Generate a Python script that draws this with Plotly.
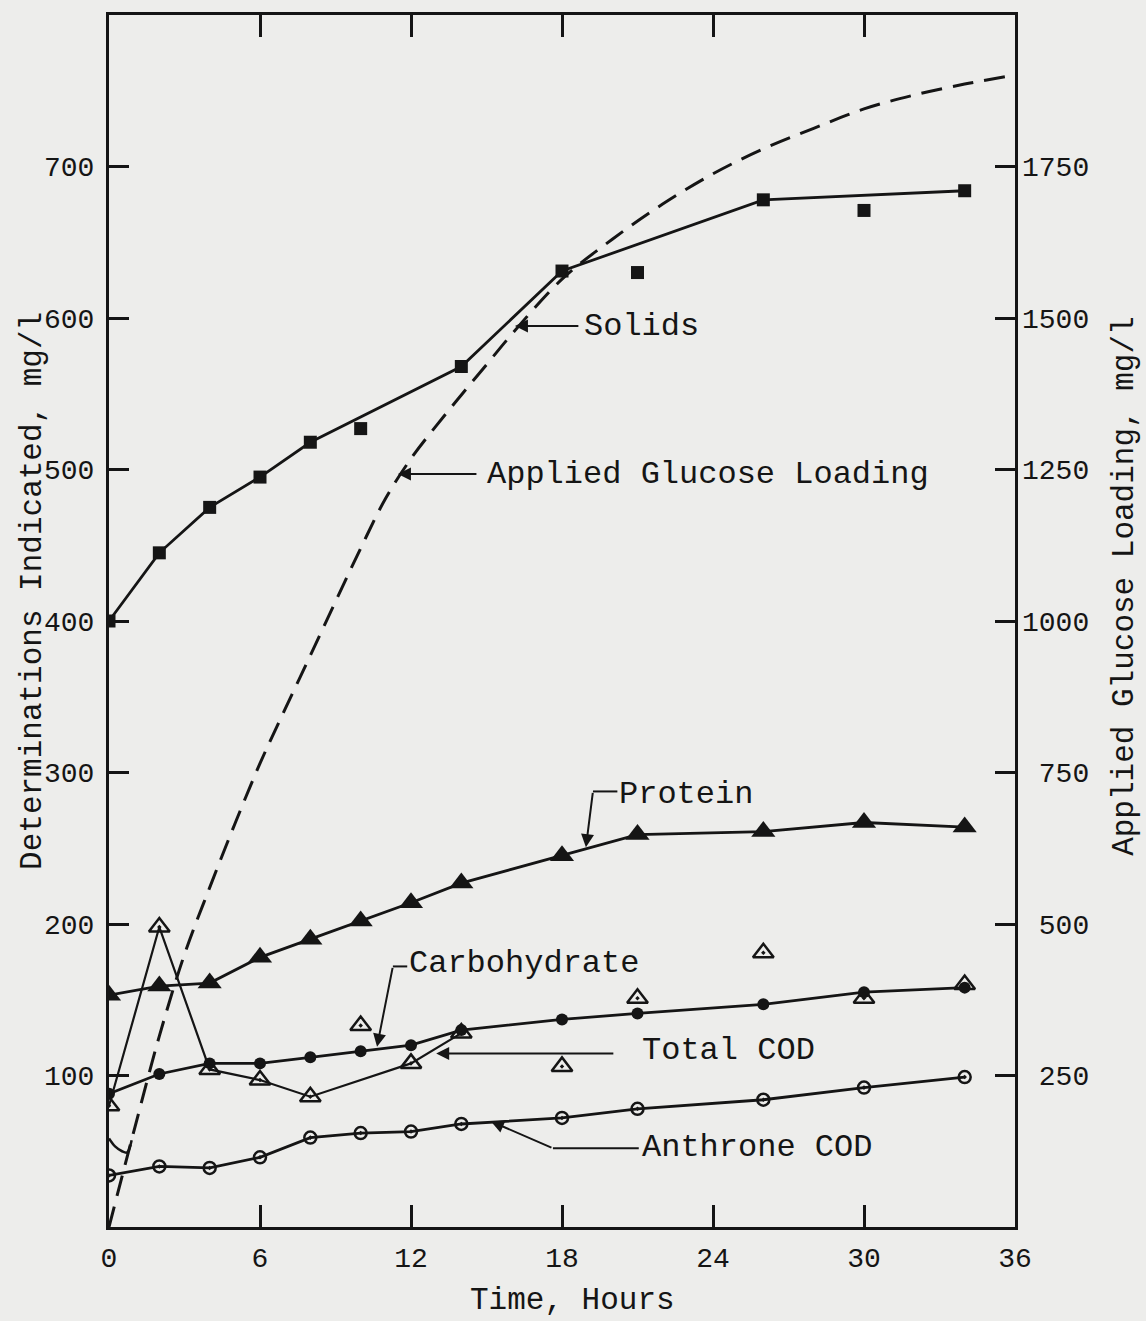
import plotly.graph_objects as go

# ---- measured series (time in hours, concentrations in mg/l) ----
solids_t = [0, 2, 4, 6, 8, 14, 18, 26, 34]
solids_v = [400, 445, 475, 495, 518, 568, 631, 678, 684]
solids_extra_t = [10, 21, 30]
solids_extra_v = [527, 630, 671]

protein_t = [0, 2, 4, 6, 8, 10, 12, 14, 18, 21, 26, 30, 34]
protein_v = [153, 159, 161, 178, 190, 202, 214, 227, 245, 259, 261, 267, 264]

carbo_t = [0, 2, 4, 6, 8, 10, 12, 14, 18, 21, 26, 30, 34]
carbo_v = [88, 101, 108, 108, 112, 116, 120, 130, 137, 141, 147, 155, 158]

tcod_t = [0, 2, 4, 6, 8, 12, 14]
tcod_v = [80, 198, 104, 97, 86, 108, 128]
tcod_extra_t = [10, 18, 21, 26, 30, 34]
tcod_extra_v = [133, 106, 151, 181, 151, 160]

anthrone_t = [0, 2, 4, 6, 8, 10, 12, 14, 18, 21, 26, 30, 34]
anthrone_v = [34, 40, 39, 46, 59, 62, 63, 68, 72, 78, 84, 92, 99]

# applied glucose loading (right axis)
glucose_t = [0, 1, 2, 3, 4, 5, 6, 7, 8, 9, 10, 11, 12, 13, 14, 15, 16,
             18, 20, 22, 24, 26, 28, 30, 32, 34, 35.6]
glucose_v = [0, 160, 315, 450, 560, 665, 765, 855, 943, 1032, 1120, 1203, 1268,
             1322, 1373, 1423, 1473, 1564, 1630, 1688, 1738, 1779, 1813, 1845,
             1868, 1886, 1898]
glucose_start_t = [0, 0.24, 0.52, 0.72, 0.9]
glucose_start_v = [146, 133, 125, 123, 143]

x_ticks = [0, 6, 12, 18, 24, 30, 36]
left_ticks = [100, 200, 300, 400, 500, 600, 700]
right_ticks = [250, 500, 750, 1000, 1250, 1500, 1750]

INK = "#151515"
BG = "#ededeb"
FONT = "Liberation Mono"

fig = go.Figure()

fig.add_trace(go.Scatter(x=glucose_t, y=glucose_v, yaxis="y2", mode="lines",
                         line=dict(color=INK, width=3, dash="21px,11px", shape="spline")))
fig.add_trace(go.Scatter(x=glucose_start_t, y=glucose_start_v, yaxis="y2", mode="lines",
                         line=dict(color=INK, width=2.5, shape="spline")))

fig.add_trace(go.Scatter(x=solids_t, y=solids_v, mode="lines+markers",
                         line=dict(color=INK, width=2.8),
                         marker=dict(symbol="square", size=13, color=INK)))
fig.add_trace(go.Scatter(x=solids_extra_t, y=solids_extra_v, mode="markers",
                         marker=dict(symbol="square", size=13, color=INK)))

fig.add_trace(go.Scatter(x=protein_t, y=protein_v, mode="lines+markers",
                         line=dict(color=INK, width=2.8),
                         marker=dict(symbol="triangle-up", size=21, color=INK)))

fig.add_trace(go.Scatter(x=carbo_t, y=carbo_v, mode="lines+markers",
                         line=dict(color=INK, width=2.8),
                         marker=dict(symbol="circle", size=12, color=INK)))

fig.add_trace(go.Scatter(x=tcod_t, y=tcod_v, mode="lines+markers",
                         line=dict(color=INK, width=2.2),
                         marker=dict(symbol="triangle-up-open-dot", size=18, color=INK,
                                     line=dict(width=2.5, color=INK))))
fig.add_trace(go.Scatter(x=tcod_extra_t, y=tcod_extra_v, mode="markers",
                         marker=dict(symbol="triangle-up-open-dot", size=18, color=INK,
                                     line=dict(width=2.5, color=INK))))

fig.add_trace(go.Scatter(x=anthrone_t, y=anthrone_v, mode="lines+markers",
                         line=dict(color=INK, width=2.8),
                         marker=dict(symbol="circle-open-dot", size=12, color=INK,
                                     line=dict(width=2.5, color=INK))))

label_font = dict(family=FONT, size=32, color=INK)


def label(text, x, y):
    fig.add_annotation(x=x, y=y, xref="x", yref="y", text=text, showarrow=False,
                       xanchor="left", yanchor="middle", font=label_font)


def pointer(x_tail, y_tail, x_head, y_head):
    fig.add_annotation(x=x_head, y=y_head, ax=x_tail, ay=y_tail, xref="x", yref="y",
                       axref="x", ayref="y", text="", showarrow=True,
                       arrowhead=2, arrowsize=1.3, arrowwidth=2, arrowcolor=INK)


def leader(x0, y0, x1, y1):
    fig.add_shape(type="line", xref="x", yref="y", x0=x0, y0=y0, x1=x1, y1=y1,
                  line=dict(color=INK, width=2))


label("Solids", 18.8, 594.7)
pointer(18.71, 594.7, 16.13, 594.7)

label("Applied Glucose Loading", 14.95, 497)
pointer(14.66, 497, 11.48, 497)

label("Protein", 20.2, 285.5)
leader(20.2, 287.5, 19.23, 287.5)
pointer(19.23, 287.5, 18.95, 250.7)

label("Carbohydrate", 11.85, 173.7)
leader(11.85, 172, 11.28, 172)
pointer(11.28, 172, 10.65, 119)

label("Total COD", 21.1, 116.4)
pointer(20.1, 114.5, 13.0, 114.5)

label("Anthrone COD", 21.1, 52.6)
leader(21.05, 52, 17.64, 52)
pointer(17.64, 52, 15.18, 69.7)

title_font = dict(family=FONT, size=31, color=INK)
fig.add_annotation(x=0.512, y=-0.0605, xref="paper", yref="paper", text="Time, Hours",
                   showarrow=False, xanchor="center", yanchor="middle", font=title_font)
fig.add_annotation(x=-0.0839, y=0.5248, xref="paper", yref="paper",
                   text="Determinations Indicated, mg/l", textangle=-90,
                   showarrow=False, xanchor="center", yanchor="middle", font=title_font)
fig.add_annotation(x=1.1214, y=0.529, xref="paper", yref="paper",
                   text="Applied Glucose Loading, mg/l", textangle=-90,
                   showarrow=False, xanchor="center", yanchor="middle", font=title_font)

tick_font = dict(family=FONT, size=28, color=INK)

fig.update_layout(
    width=1146, height=1321,
    margin=dict(l=109, r=131, t=15, b=94),
    paper_bgcolor=BG, plot_bgcolor=BG,
    showlegend=False,
    xaxis=dict(range=[0, 36], tickvals=x_ticks, ticktext=[str(v) for v in x_ticks],
               ticks="inside", ticklen=22, tickwidth=3, tickcolor=INK,
               showline=True, linewidth=3, linecolor=INK, mirror="ticks",
               showgrid=False, zeroline=False, tickfont=tick_font,
               ticklabelstandoff=3),
    yaxis=dict(range=[0, 800], tickvals=left_ticks, ticktext=[str(v) for v in left_ticks],
               ticks="inside", ticklen=20, tickwidth=3, tickcolor=INK,
               showline=True, linewidth=3, linecolor=INK, mirror=True,
               showgrid=False, zeroline=False, tickfont=tick_font,
               ticklabelstandoff=6),
    yaxis2=dict(range=[0, 2000], overlaying="y", side="right", tickvals=right_ticks,
                ticktext=[str(v).rjust(4, "\u00a0") for v in right_ticks],
                ticks="inside", ticklen=20, tickwidth=3, tickcolor=INK,
                showline=False, showgrid=False, zeroline=False, tickfont=tick_font,
                ticklabelstandoff=6),
)

fig.write_html("out.html")
